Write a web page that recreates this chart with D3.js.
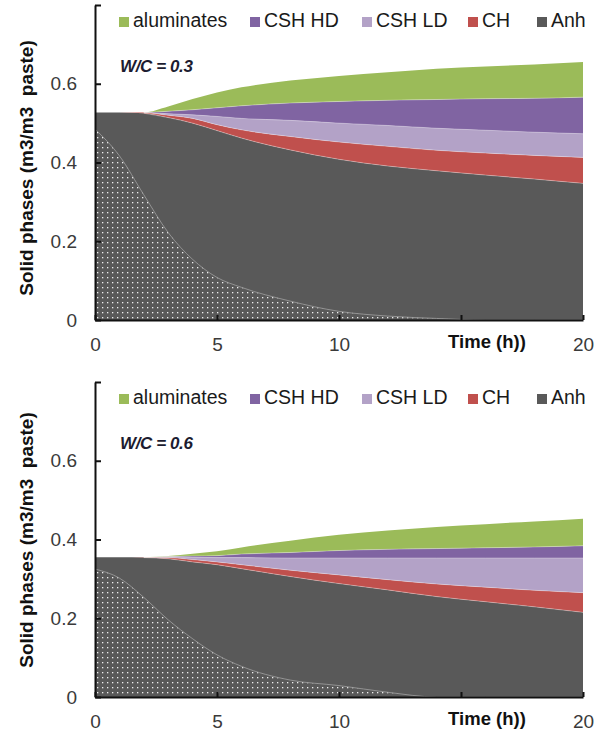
<!DOCTYPE html>
<html>
<head>
<meta charset="utf-8">
<script src="https://cdn.jsdelivr.net/npm/d3@7"></script>
<style>
  body { margin: 0; background: #fff; }
  svg { display: block; }
  text { font-family: "Liberation Sans", Arial, sans-serif; }
</style>
</head>
<body>
<svg id="chart" width="605" height="736"></svg>
<script>
// Hydration time (h)
const times = [0, 1, 2, 3, 4, 5, 6, 8, 10, 12, 14, 16, 18, 20];

// Phase keys in stacking order (bottom to top) and their fills
const phaseKeys = ["Anh", "CH", "CSH LD", "CSH HD", "aluminates"];
const phaseColors = ["#595959", "#C0504D", "#B3A2C7", "#8064A2", "#9BBB59"];
const legendKeys = ["aluminates", "CSH HD", "CSH LD", "CH", "Anh"];

// Axis ticks
const xTicks = [0, 5, 10, 15, 20];
const xTickLabels = ["0", "5", "10", "", "20"];
const yTicks = [0, 0.2, 0.4, 0.6, 0.8];
const yTickLabels = ["0", "0.2", "0.4", "0.6", ""];

// W/C = 0.3 : solid phase volumes (m3/m3 paste)
const anh03   = [0.527, 0.527, 0.525, 0.514, 0.500, 0.481, 0.462, 0.432, 0.408, 0.391, 0.379, 0.368, 0.358, 0.347];
const ch03    = [0, 0, 0.002, 0.006, 0.012, 0.015, 0.021, 0.034, 0.044, 0.050, 0.052, 0.056, 0.060, 0.066];
const csLD03  = [0, 0, 0, 0.004, 0.009, 0.021, 0.029, 0.041, 0.048, 0.053, 0.056, 0.058, 0.059, 0.060];
const csHD03  = [0, 0, 0, 0.006, 0.013, 0.022, 0.032, 0.044, 0.055, 0.064, 0.073, 0.080, 0.086, 0.093];
const alum03  = [0, 0, 0, 0.012, 0.027, 0.039, 0.047, 0.057, 0.065, 0.071, 0.078, 0.082, 0.086, 0.089];
const core03  = [0.485, 0.417, 0.318, 0.222, 0.154, 0.108, 0.083, 0.048, 0.022, 0.010, 0.004, 0, 0, 0];

// W/C = 0.6 : solid phase volumes (m3/m3 paste)
const anh06   = [0.355, 0.355, 0.354, 0.351, 0.343, 0.336, 0.326, 0.306, 0.288, 0.272, 0.255, 0.242, 0.229, 0.215];
const ch06    = [0, 0, 0.001, 0.003, 0.006, 0.007, 0.010, 0.016, 0.022, 0.026, 0.032, 0.037, 0.042, 0.050];
const csLD06  = [0, 0, 0, 0.002, 0.006, 0.011, 0.018, 0.031, 0.043, 0.055, 0.066, 0.074, 0.082, 0.088];
const csHD06  = [0, 0, 0, 0.001, 0.003, 0.005, 0.009, 0.014, 0.019, 0.022, 0.024, 0.026, 0.028, 0.031];
const alum06  = [0, 0, 0, 0.001, 0.006, 0.011, 0.017, 0.030, 0.040, 0.048, 0.055, 0.060, 0.065, 0.069];
const core06  = [0.325, 0.302, 0.253, 0.196, 0.148, 0.107, 0.078, 0.043, 0.029, 0.012, 0, 0, 0, 0];

const panels = [
  { label: "W/C = 0.3", series: [anh03, ch03, csLD03, csHD03, alum03], core: core03,
    top: 5, bottom: 320, legendY: 27, labelY: 71.5, titleY: 168 },
  { label: "W/C = 0.6", series: [anh06, ch06, csLD06, csHD06, alum06], core: core06,
    top: 382, bottom: 697, legendY: 404, labelY: 449, titleY: 540 }
];

const svg = d3.select("#chart");
const left = 95, right = 583;
const legendX = [119, 250, 362, 468, 537];

// White dot fill used for the unreacted core region
const defs = svg.append("defs");
const pat = defs.append("pattern")
  .attr("id", "dots")
  .attr("patternUnits", "userSpaceOnUse")
  .attr("width", 5).attr("height", 5);
pat.append("rect").attr("x", 2).attr("y", 2).attr("width", 1.3).attr("height", 1.3)
  .attr("fill", "#f0f0f0");

const x = d3.scaleLinear().domain([0, 20]).range([left, right]);

panels.forEach(p => {
  const y = d3.scaleLinear().domain([0, 0.8]).range([p.bottom, p.top]);
  const g = svg.append("g");

  const rows = times.map((t, i) => {
    const r = { t };
    phaseKeys.forEach((k, j) => { r[k] = p.series[j][i]; });
    return r;
  });
  const stacked = d3.stack().keys(phaseKeys)(rows);

  const area = d3.area()
    .x(d => x(d.data.t))
    .y0(d => y(d[0]))
    .y1(d => y(d[1]))
    .curve(d3.curveMonotoneX);

  g.selectAll("path.layer")
    .data(stacked)
    .join("path")
    .attr("class", "layer")
    .attr("d", area)
    .attr("fill", (d, i) => phaseColors[i]);

  // faint light seams along the layer tops
  const seam = d3.line()
    .x(d => x(d.data.t))
    .y(d => y(d[1]))
    .curve(d3.curveMonotoneX);
  g.selectAll("path.seam")
    .data(stacked.slice(0, 4))
    .join("path")
    .attr("class", "seam")
    .attr("d", d => seam(d.filter(v => v.data.t >= 2)))
    .attr("fill", "none")
    .attr("stroke", "rgba(255,255,255,0.45)")
    .attr("stroke-width", 0.7);

  // dotted unreacted core
  const coreArea = d3.area()
    .x((d, i) => x(times[i]))
    .y0(y(0))
    .y1(d => y(d))
    .curve(d3.curveMonotoneX);
  g.append("path")
    .attr("d", coreArea(p.core))
    .attr("fill", "url(#dots)");
  const coreLine = d3.line()
    .x((d, i) => x(times[i]))
    .y(d => y(d))
    .curve(d3.curveMonotoneX);
  g.append("path")
    .attr("d", coreLine(p.core))
    .attr("fill", "none")
    .attr("stroke", "#a0a0a0")
    .attr("stroke-width", 0.8);

  // axes
  const yAxis = d3.axisLeft(y)
    .tickValues(yTicks)
    .tickSizeInner(-6)
    .tickSizeOuter(0)
    .tickPadding(18)
    .tickFormat((d, i) => yTickLabels[i]);
  const ya = g.append("g").attr("transform", `translate(${left},0)`).call(yAxis);

  const xAxis = d3.axisBottom(x)
    .tickValues(xTicks)
    .tickSizeInner(-5)
    .tickSizeOuter(0)
    .tickPadding(18)
    .tickFormat((d, i) => xTickLabels[i]);
  const xa = g.append("g").attr("transform", `translate(0,${p.bottom})`).call(xAxis);

  [ya, xa].forEach(a => {
    a.select(".domain").attr("stroke", "#111").attr("stroke-width", 2);
    a.selectAll(".tick line").attr("stroke", "#111").attr("stroke-width", 2);
    a.selectAll(".tick text").attr("fill", "#3a3a3a").style("font-size", "19px")
      .style("font-family", "'Liberation Sans', Arial, sans-serif");
  });

  // x axis title sits in place of the 15 h label
  g.append("text")
    .attr("x", 487).attr("y", p.bottom + 28)
    .attr("text-anchor", "middle")
    .style("font-size", "18.5px").style("font-weight", "bold")
    .attr("fill", "#111")
    .text("Time (h))");

  // y axis title
  g.append("text")
    .attr("transform", `translate(33,${p.titleY}) rotate(-90)`)
    .attr("text-anchor", "middle")
    .style("font-size", "19px").style("font-weight", "bold")
    .attr("fill", "#111")
    .text("Solid phases (m3/m3  paste)")
    .attr("xml:space", "preserve")
    .style("white-space", "pre");

  // W/C annotation
  g.append("text")
    .attr("x", 120).attr("y", p.labelY)
    .style("font-size", "17px").style("font-weight", "bold").style("font-style", "italic")
    .style("letter-spacing", "-0.4px")
    .attr("fill", "#1c1c30")
    .text(p.label);

  // legend
  const lg = g.append("g");
  legendKeys.forEach((k, i) => {
    const c = phaseColors[phaseKeys.indexOf(k)];
    lg.append("rect")
      .attr("x", legendX[i]).attr("y", p.legendY - 10)
      .attr("width", 10).attr("height", 10)
      .attr("fill", c);
    lg.append("text")
      .attr("x", legendX[i] + 14).attr("y", p.legendY)
      .style("font-size", "19.5px")
      .attr("fill", "#1a1a1a")
      .text(k);
  });
});
</script>
</body>
</html>
